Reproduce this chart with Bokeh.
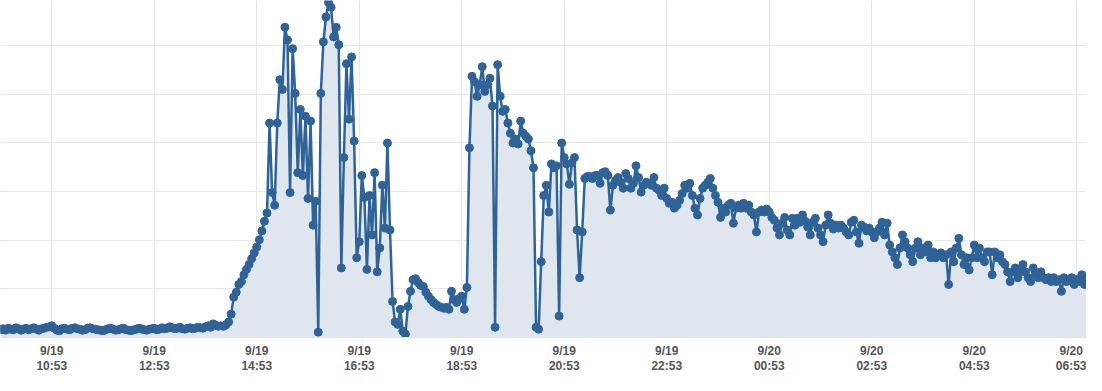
from bokeh.plotting import figure
from bokeh.models import Range1d, FixedTicker, Grid, ColumnDataSource
from bokeh.embed import file_html
from bokeh.resources import INLINE

# ---- data ----
# sample interval: 3 minutes, first sample at 9/19 09:53
sample_minutes = 3
tick_labels = ["9/19\n10:53", "9/19\n12:53", "9/19\n14:53", "9/19\n16:53",
               "9/19\n18:53", "9/19\n20:53", "9/19\n22:53", "9/20\n00:53",
               "9/20\n02:53", "9/20\n04:53", "9/20\n06:53"]
tick_minutes = [60, 180, 300, 420, 540, 660, 780, 900, 1020, 1140, 1260]

values = [
    1.6, 1.8, 1.5, 1.9, 1.7, 1.6, 2.0, 1.8, 1.5, 1.7, 1.9, 1.6, 1.8, 2.0, 1.7, 1.5, 1.8, 1.9, 2.1, 2.2,
    2.4, 1.9, 1.5, 1.4, 1.8, 1.9, 1.7, 1.6, 1.9, 2.0, 1.8, 1.7, 1.5, 1.6, 1.9, 2.0, 1.8, 1.7, 1.6, 1.5,
    1.4, 1.6, 1.8, 1.9, 1.7, 1.5, 1.6, 1.8, 1.9, 1.6, 1.5, 1.4, 1.6, 1.7, 1.9, 1.8, 1.6, 1.5, 1.7, 1.8,
    1.9, 1.6, 1.7, 2.0, 1.8, 1.9, 2.2, 2.0, 1.8, 1.9, 2.1, 1.8, 1.7, 1.9, 2.0, 1.8, 1.9, 2.1, 2.0, 1.9,
    2.2, 2.4, 2.1, 2.8, 2.5, 2.3, 2.4, 2.3, 2.6,
    3.2, 4.8, 8.3, 9.3, 10.9, 11.5, 12.9, 14.0, 15.0, 16.2, 17.4, 18.6, 20.1, 21.9, 23.9, 25.6,
    44.1, 29.8, 27.2, 44.1, 53.0, 51.0, 63.8, 61.2, 29.8, 59.4, 50.2, 33.9, 46.9, 33.3, 45.5, 28.6, 44.5, 23.1, 28.0, 1.1,
    50.2, 60.8, 65.9, 68.9, 67.9, 61.8, 63.8, 60.2, 14.3, 37.0, 56.3, 44.9, 57.7, 40.4, 16.4, 19.7, 33.3, 28.8, 14.0, 29.2,
    21.1, 33.9, 13.5, 18.4, 31.3, 22.5, 40.0, 22.1, 7.4, 3.2, 2.7, 5.8, 1.3, 0.7, 6.4, 9.5, 11.9, 12.1, 11.3, 10.7,
    10.5, 9.3, 8.5, 7.8, 7.2, 6.8, 6.4, 6.2, 6.0, 6.2, 5.8, 9.5, 7.8, 7.2, 8.0, 8.5, 5.8, 10.3,
    39.0, 53.7, 52.6, 49.6, 52.0, 55.7, 50.6, 52.0, 53.3, 47.6, 2.1, 56.1, 49.6, 46.5, 46.9, 44.1, 42.0, 40.0, 40.8, 39.8, 44.5, 42.0,
    41.4, 40.8, 38.4, 34.9, 2.1, 1.7, 15.6, 29.2, 31.3, 25.8, 35.7, 34.9, 35.3, 4.4, 40.0, 37.0, 35.7, 31.5, 35.9, 37.0,
    22.1, 12.3, 21.7, 32.7, 33.1, 33.1, 32.7, 33.3, 33.3, 31.7, 33.9, 34.1, 33.3, 26.2, 31.3, 32.3, 32.9, 31.9, 30.7, 33.7,
    32.7, 30.7, 31.7, 35.3, 32.9, 29.9, 31.3, 31.9, 31.7, 31.3, 32.9, 30.7, 30.3, 29.2, 30.7, 28.6, 27.6, 27.8, 26.6, 27.2,
    28.2, 29.6, 31.3, 30.7, 31.7, 29.2, 26.6, 25.2, 28.6, 30.7, 31.3, 31.9, 32.7, 30.7, 29.2, 27.8, 24.7, 26.6, 25.8, 27.2,
    27.6, 23.5, 26.6, 27.2, 26.6, 27.6, 26.6, 27.2, 25.8, 25.2, 21.7, 25.8, 26.2, 25.8, 26.4, 25.8, 24.7, 24.1, 22.5, 21.1,
    23.5, 24.7, 22.1, 21.1, 24.5, 23.1, 24.5, 23.7, 25.2, 23.9, 22.7, 21.1, 23.7, 24.5, 22.5, 21.1, 19.7, 23.1, 25.2, 23.5,
    22.3, 23.1, 22.5, 23.1, 22.5, 21.7, 21.1, 23.7, 24.1, 21.7, 19.4, 23.1, 22.7, 21.9, 22.5, 21.7, 20.5, 21.7, 22.5, 23.7,
    21.1, 23.5, 19.0, 17.6, 16.4, 15.0, 18.4, 21.1, 19.7, 18.4, 17.0, 15.6, 18.4, 19.7, 17.0, 18.4, 17.6, 19.0, 16.4, 17.6,
    16.4, 17.0, 17.4, 16.4, 17.0, 10.9, 17.6, 15.6, 18.4, 20.4, 17.0, 15.0, 16.4, 13.9, 16.4, 19.0, 16.4, 18.4, 16.4, 15.6,
    17.6, 17.6, 12.9, 17.6, 16.4, 17.0, 15.6, 15.0, 13.5, 11.5, 13.5, 14.3, 12.3, 13.5, 15.0, 13.5, 12.3, 11.5, 14.3, 12.9,
    12.3, 13.5, 12.3, 11.9, 12.3, 11.5, 12.3, 11.5, 11.9, 9.5, 12.3, 11.5, 11.9, 12.3, 10.9, 11.9, 11.5, 12.9, 10.9, 12.3,
    11.9, 8.9, 10.3, 11.5, 12.3, 11.2,
]
minutes = [i * sample_minutes for i in range(len(values))]

LINE = "#2f6398"
FILL = "#dfe6ee"
GRID = "#e8e8e8"

src = ColumnDataSource(dict(x=minutes, y=values))

p = figure(width=1086, height=375, output_backend="svg", toolbar_location=None,
           x_range=Range1d(0, 1271.4), y_range=Range1d(0, 69.3),
           y_axis_location=None, min_border_left=0, min_border_right=0,
           min_border_top=0, min_border_bottom=35)
p.outline_line_color = None
p.background_fill_color = "white"
p.border_fill_color = "white"

p.varea(x="x", y1=0, y2="y", source=src, fill_color=FILL)
p.line(x="x", y="y", source=src, line_color=LINE, line_width=2.5)
p.scatter(x="x", y="y", source=src, size=8, fill_color=LINE, line_color=LINE)

ax = p.xaxis[0]
ax.ticker = FixedTicker(ticks=tick_minutes)
ax.major_label_overrides = {m: lab for m, lab in zip(tick_minutes, tick_labels)}
ax.major_tick_in = 0
ax.major_tick_out = 0
ax.minor_tick_in = 0
ax.minor_tick_out = 0
ax.axis_line_color = "#e2e2e2"
ax.major_label_standoff = 6
ax.major_label_text_font = "Liberation Sans"
ax.major_label_text_font_style = "bold"
ax.major_label_text_font_size = "12px"
ax.major_label_text_color = "#555555"
ax.major_label_text_line_height = 1.1

p.xgrid.ticker = FixedTicker(ticks=tick_minutes)
p.xgrid.grid_line_color = GRID
p.add_layout(Grid(dimension=1, ticker=FixedTicker(ticks=[10, 20, 30, 40, 50, 60]),
                  grid_line_color=GRID))

open("out.html", "w").write(file_html(p, INLINE))
